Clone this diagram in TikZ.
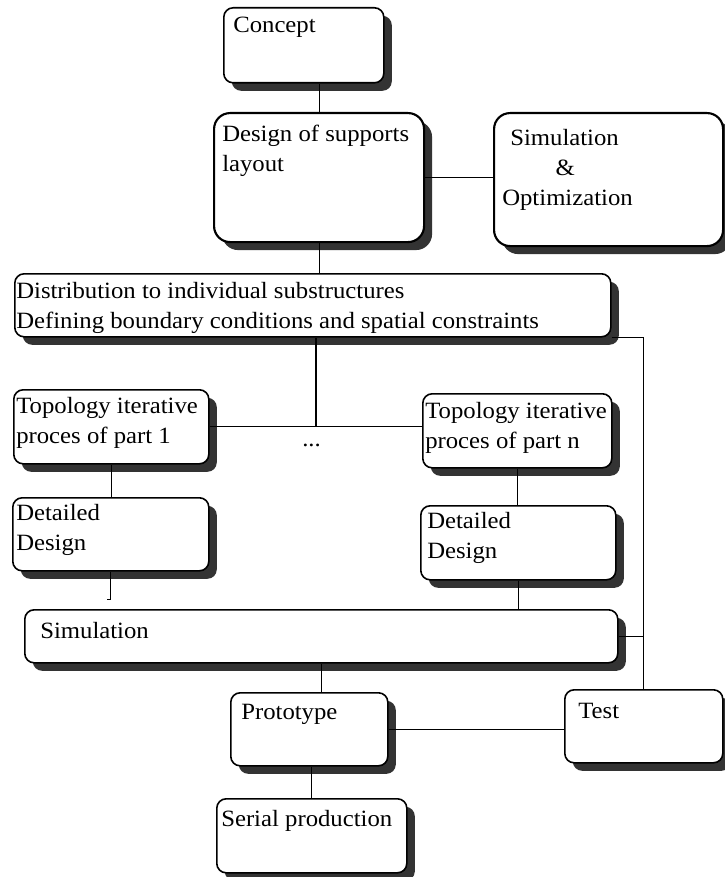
\documentclass[tikz,border=0pt]{standalone}
\usepackage{fontspec}
\setmainfont[FakeStretch=1.06]{Liberation Serif}
\usetikzlibrary{shadows}
\definecolor{shadowgray}{HTML}{333333}

\begin{document}
\begin{tikzpicture}[x=0.75pt, y=-0.75pt,
    every node/.style={font=\fontsize{17.5}{22.5}\selectfont},
    box/.style 2 args={anchor=north west, inner sep=0pt, draw, fill=white,
      line width=1.2pt, rounded corners=7pt,
      minimum width=#1*0.75pt, minimum height=#2*0.75pt,
      general shadow={fill=shadowgray, shadow xshift=6pt, shadow yshift=-6pt}},
    bigbox/.style={rounded corners=12pt, line width=1.6pt},
    txt/.style={anchor=base west, inner sep=0pt, align=left},
    link/.style={line width=0.8pt}
  ]
  \useasboundingbox (0,0) rectangle (724,877);

  % Boxes
  \node[box={160}{75}] (concept) at (223,7) {};
  \node[box={210}{129}, bigbox] (design) at (213,112) {};
  \node[box={229}{133}, bigbox] (simopt) at (493,112) {};
  \node[box={596}{63}] (dist) at (14,273) {};
  \node[box={195}{74}] (topo1) at (13,389) {};
  \node[box={189}{74}] (topon) at (422,393) {};
  \node[box={196}{73}] (dd1) at (12,497) {};
  \node[box={195}{74}] (ddn) at (420,505) {};
  \node[box={593}{53}] (sim) at (24,609) {};
  \node[box={157}{73}] (proto) at (230,692) {};
  \node[box={158}{73}] (test) at (564,689) {};
  \node[box={190}{74}] (serial) at (216,798) {};

  % Texts (anchored at the baseline of the last line)
  \node[txt] (concept-t) at (233,33) {Concept};
  \node[txt] (design-t) at (222,172) {Design of supports\\layout};
  \node[txt] (simopt-t) at (502,206) {\hspace*{6pt}Simulation\\\hspace*{40pt}\&\\Optimization};
  \node[txt] (dist-t) at (16,328) {Distribution to individual substructures\\Defining boundary conditions and spatial constraints};
  \node[txt] (topo1-t) at (16,443) {Topology iterative\\proces of part 1};
  \node[txt] (topon-t) at (425,448) {Topology iterative\\proces of part n};
  \node[txt] (dd1-t) at (16,550) {Detailed\\Design};
  \node[txt] (ddn-t) at (427,558) {Detailed\\Design};
  \node[txt] (sim-t) at (40,638) {Simulation};
  \node[txt] (proto-t) at (241,719) {Prototype};
  \node[txt] (test-t) at (578,718) {Test};
  \node[txt] (serial-t) at (221,826) {Serial production};
  \node[txt] (dots) at (302,446) {...};

  % Connectors
  \coordinate (split) at (316,427);
  \draw[link] (design.north) -- (design.north |- concept.south);
  \draw[link] (design.east) -- (design.east -| simopt.west);
  \draw[link] (design.south) -- (design.south |- dist.north);
  \draw[link] (split |- dist.south) -- (split);
  \draw[link] (topo1.east) -- (topo1.east -| topon.west);
  \draw[link] (topo1.south) -- (topo1.south |- dd1.north);
  \draw[link] (topon.south) -- (topon.south |- ddn.north);
  \draw[link] (dd1.south) -- ++(0,28) -- ++(-4,0);
  \draw[link] (ddn.south) -- (ddn.south |- sim.north);
  \draw[link] (dist.south east) -- (dist.south east -| test.north) -- (test.north);
  \draw[link] (sim.east) -- (sim.east -| test.north);
  \draw[link] (sim.south) -- (sim.south |- proto.north);
  \draw[link] (proto.east) -- (proto.east -| test.west);
  \draw[link] (serial.north |- proto.south) -- (serial.north);
\end{tikzpicture}
\end{document}
